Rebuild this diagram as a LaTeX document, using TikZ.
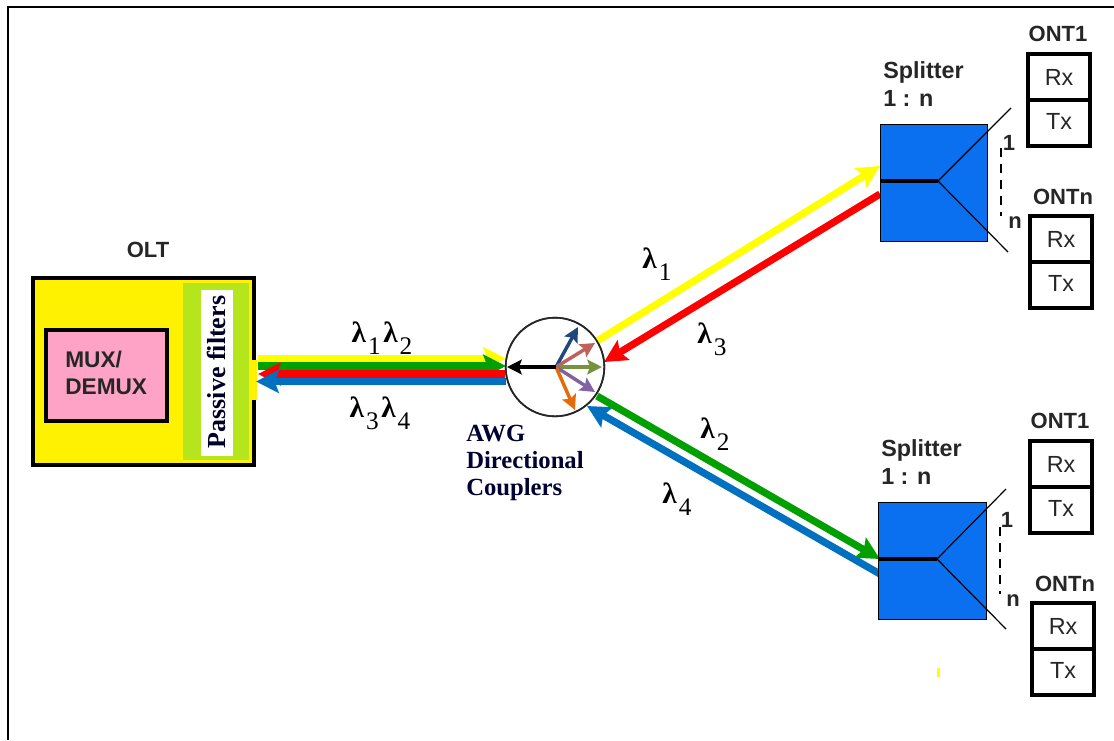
\documentclass[tikz,border=0pt]{standalone}
\usepackage{fontspec}
\setmainfont{Liberation Sans}
\newfontfamily\srf{Liberation Serif}
\usetikzlibrary{arrows.meta}
\definecolor{cyel}{HTML}{FFF200}
\definecolor{cline}{HTML}{FFFF00}
\definecolor{cgrn}{HTML}{00A000}
\definecolor{cred}{HTML}{FF0000}
\definecolor{cblu}{HTML}{0070C0}
\definecolor{clime}{HTML}{B5E61D}
\definecolor{cpink}{HTML}{FFA3C6}
\definecolor{csplit}{HTML}{0A70F0}
\definecolor{cnavy}{HTML}{1F497D}
\definecolor{cbrick}{HTML}{C0605A}
\definecolor{colive}{HTML}{76923C}
\definecolor{cpurp}{HTML}{8064A2}
\definecolor{corange}{HTML}{E36C0A}
\newcommand{\lam}[1]{{\srf\bfseries λ}\hspace{1.5pt}\raisebox{-0.42em}{\srf\fontsize{19}{19}\selectfont #1}}
\tikzset{
  x=0.75pt,y=-0.75pt,
  fat/.style={line width=5.4pt,-{Stealth[length=17pt,width=17pt,inset=3pt]}},
  thin arrow/.style={line width=2.6pt,-{Stealth[length=11pt,width=11pt,inset=2pt]}},
  ontcell/.style={draw=black,line width=2.6pt,fill=white,inner sep=0pt,minimum width=46.5pt,minimum height=34.5pt,font=\fontsize{17.5}{17.5}\selectfont,text=black!85},
  lbl/.style={font=\bfseries\fontsize{16.5}{16.5}\selectfont,text=black!85,inner sep=0pt},
  lbls/.style={font=\bfseries\fontsize{17.5}{21}\selectfont,text=black!85,inner sep=0pt,align=left},
  lamb/.style={font=\fontsize{22}{22}\selectfont,inner sep=0pt},
  splitbox/.style={draw=black,line width=0.9pt,fill=csplit,inner sep=0pt,minimum width=80.5pt,minimum height=88pt},
  fork/.style={line width=0.9pt},
  stem/.style={line width=2.4pt},
  tick/.style={line width=1pt,dash pattern=on 7pt off 5pt},
}
\begin{document}
\begin{tikzpicture}
\useasboundingbox (0,0) rectangle (1114,740);
\fill[white] (0,0) rectangle (1114,740);
% frame
\coordinate (fa) at (1114,7);
\coordinate (fb) at (8,7);
\coordinate (fc) at (8,740);
\draw[line width=2pt] (fa) -- (fb) -- (fc);
% OLT
\node[draw=black,line width=3pt,fill=cyel,inner sep=0pt,minimum width=166pt,minimum height=140pt] (olt) at (143.5,371.5) {};
\node[fill=cyel,inner sep=0pt,minimum width=5pt,minimum height=30pt] (oltpad) at (254,380) {};
\node[fill=clime,inner sep=0pt,minimum width=49.5pt,minimum height=133pt] (green) at (216,371.5) {};
\node[fill=white,inner sep=0pt,minimum width=24pt,minimum height=124.5pt] (white) at (217,373) {};
\node[rotate=90,font=\srf\bfseries\fontsize{19.5}{19.5}\selectfont,text=black!85!blue,inner sep=0pt] (pf) at (216,372) {Passive filters};
\node[draw=black,line width=2.6pt,fill=cpink,inner sep=0pt,minimum width=91pt,minimum height=68.5pt] (mux) at (106.5,375.5) {};
\node[anchor=west,font=\bfseries\fontsize{17}{20.5}\selectfont,align=left,inner sep=0pt,text=black!85] (muxt) at (65,373) {MUX/\\DEMUX};
\node[lbl] (oltl) at (148,250) {OLT};
% AWG circle
\node[circle,draw=black!85,line width=1.2pt,fill=white,inner sep=0pt,minimum size=74pt] (awg) at (555,367) {};
% splitters
\node[splitbox] (sp1) at (934,183) {};
\node[splitbox] (sp2) at (932.5,561) {};
% connector end points
\coordinate (ly1) at (258,358.5); \coordinate (ly2) at (506,358.5);
\coordinate (lg1) at (258,366); \coordinate (lg2) at (506,366);
\coordinate (lr1) at (505,374); \coordinate (lr2) at (258,374);
\coordinate (lb1) at (506,381.5); \coordinate (lb2) at (256,381.5);
\coordinate (uy1) at (597,341); \coordinate (uy2) at (880,166);
\coordinate (ur1) at (880,194); \coordinate (ur2) at (604,362);
\coordinate (dg1) at (597,396); \coordinate (dg2) at (880,559);
\coordinate (db1) at (880,574); \coordinate (db2) at (587,406);
% fat connectors
\draw[fat,cline] (ly1) -- (ly2);
\draw[fat,cgrn] (lg1) -- (lg2);
\draw[fat,cred] (lr1) -- (lr2);
\draw[fat,cblu] (lb1) -- (lb2);
\draw[fat,cline] (uy1) -- (uy2);
\draw[fat,cred] (ur1) -- (ur2);
\draw[fat,cblu] (db1) -- (db2);
\draw[fat,cgrn] (dg1) -- (dg2);
% splitter redraw on top
\node[splitbox] (sp1t) at (934,183) {};
\node[splitbox] (sp2t) at (932.5,561) {};
\node[draw=black!85,line width=1.2pt,circle,inner sep=0pt,minimum size=74pt] (awgt) at (555,367) {};
% inner arrows
\coordinate (c) at (556,367);
\coordinate (a1) at (507,367);
\coordinate (a2) at (578,327);
\coordinate (a3) at (595,343);
\coordinate (a4) at (602,367);
\coordinate (a5) at (595,392);
\coordinate (a6) at (575,410);
\draw[thin arrow,cnavy] (c) -- (a2);
\draw[thin arrow,cbrick] (c) -- (a3);
\draw[thin arrow,colive] (c) -- (a4);
\draw[thin arrow,cpurp] (c) -- (a5);
\draw[thin arrow,corange] (c) -- (a6);
\draw[thin arrow,black,line width=3.4pt] (c) -- (a1);
% splitter internals upper
\coordinate (f1) at (938,181);
\coordinate (f1l) at (880,181);
\coordinate (f1a) at (1011,108);
\coordinate (f1b) at (1008,252);
\draw[stem] (f1l) -- (f1);
\draw[fork] (f1a) -- (f1) -- (f1b);
\coordinate (d1a) at (1001,148); \coordinate (d1b) at (1001,216);
\draw[tick] (d1a) -- (d1b);
\node[lbl] (n11) at (1009,143) {1};
\node[lbl] (n1n) at (1015,223) {n};
% splitter internals lower
\coordinate (f2) at (937,559);
\coordinate (f2l) at (879,559);
\coordinate (f2a) at (1006,489);
\coordinate (f2b) at (1006,629);
\draw[stem] (f2l) -- (f2);
\draw[fork] (f2a) -- (f2) -- (f2b);
\coordinate (d2a) at (1000,527); \coordinate (d2b) at (1000,594);
\draw[tick] (d2a) -- (d2b);
\node[lbl] (n21) at (1007,520) {1};
\node[lbl] (n2n) at (1013,601) {n};
% splitter labels
\node[lbls,anchor=west] (sl1) at (883,84) {Splitter\\1 : n};
\node[lbls,anchor=west] (sl2) at (881,462) {Splitter\\1 : n};
% ONTs
\node[ontcell] (r1) at (1059,77) {Rx};
\node[ontcell] (t1) at (1059,123) {\raisebox{3pt}{Tx}};
\node[lbl] (o1) at (1058,34) {ONT1};
\node[ontcell] (r2) at (1061,239) {Rx};
\node[ontcell] (t2) at (1061,285) {\raisebox{3pt}{Tx}};
\node[lbl] (o2) at (1063,197) {ONTn};
\node[ontcell] (r3) at (1061,464) {Rx};
\node[ontcell] (t3) at (1061,510) {\raisebox{3pt}{Tx}};
\node[lbl] (o3) at (1060,421) {ONT1};
\node[ontcell] (r4) at (1063,626) {Rx};
\node[ontcell] (t4) at (1063,672) {\raisebox{3pt}{Tx}};
\node[lbl] (o4) at (1065,584) {ONTn};
% lambda labels
\node[lamb] (l12) at (382,338) {\lam{1}\hspace{2pt}\lam{2}};
\node[lamb] (l34) at (380,413) {\lam{3}\hspace{2pt}\lam{4}};
\node[lamb] (l1) at (657,264) {\lam{1}};
\node[lamb] (l3) at (712,339) {\lam{3}};
\node[lamb] (l2) at (715,434) {\lam{2}};
\node[lamb] (l4) at (677,499) {\lam{4}};
% AWG text
\node[anchor=west,inner sep=0pt,align=left,font=\srf\bfseries\fontsize{18.5}{20}\selectfont,text=black!80!blue] (awgl) at (466,463) {AWG\\Directional\\Couplers};
% stray mark
\fill[cline] (937,668) rectangle (940,677);
\end{tikzpicture}
\end{document}
